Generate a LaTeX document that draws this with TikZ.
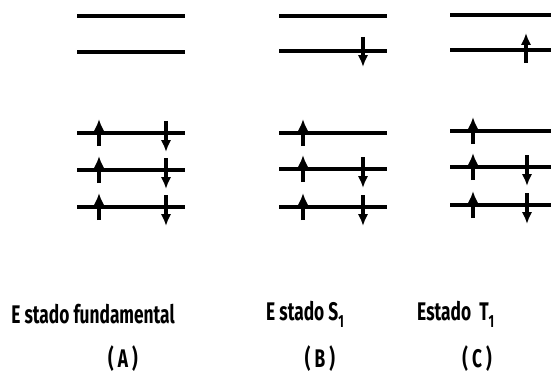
\documentclass[tikz,border=0pt]{standalone}
\usepackage{fontspec}
\setmainfont{Fira Sans}
\usetikzlibrary{arrows.meta}

\begin{document}
\begin{tikzpicture}[x=0.02cm, y=-0.02cm,
        level/.style={line width=2.2pt},
        spin/.style={line width=2pt, -{Latex[length=2.4mm,width=2.1mm]}},
        label/.style={font=\fontsize{14.5}{16}\selectfont\bfseries, xscale=0.68, transform shape, inner sep=0pt}]

        \useasboundingbox (0,0) rectangle (551,375);

        % (A) estado fundamental
        \begin{scope}[shift={(77,0)}]
        \foreach \y in {16,52,133,170,207}
            \draw[level] (0,\y) -- (108,\y);
        \foreach \y in {133,170,207} {
            \draw[spin] (22,\y+13) -- (22,\y-14);
            \draw[spin] (89,\y-12) -- (89,\y+19);
        }
        \end{scope}

        % (B) estado S1
        \begin{scope}[shift={(279,0)}]
        \foreach \y in {16,51,133,169,207}
            \draw[level] (0,\y) -- (108,\y);
        \draw[spin] (84,37) -- (84,67);
        \foreach \y in {133,169,207}
            \draw[spin] (24,\y+13) -- (24,\y-14);
        \foreach \y in {169,207}
            \draw[spin] (84,\y-12) -- (84,\y+19);
        \end{scope}

        % (C) estado T1
        \begin{scope}[shift={(450,0)}]
        \clip (0,0) rectangle (101,375);
        \foreach \y in {15,50,131,167,205}
            \draw[level] (0,\y) -- (120,\y);
        \draw[spin] (76,63) -- (76,33);
        \foreach \y in {131,167,205}
            \draw[spin] (23,\y+13) -- (23,\y-14);
        \foreach \y in {167,205}
            \draw[spin] (77,\y-12) -- (77,\y+19);
        \end{scope}

        \node[label] (fundA) at (93,314) {E stado fundamental};
        \node[label] (estB) at (305,314) {E stado S\raisebox{-0.5ex}{\fontsize{10}{10}\selectfont 1}};
        \node[label, anchor=west] (estC) at (417,314) {Estado \ T\raisebox{-0.5ex}{\fontsize{10}{10}\selectfont 1}};

        \node[label] (capA) at (123,359) {( A )};
        \node[label] (capB) at (320,359) {( B )};
        \node[label] (capC) at (477,359) {( C )};
        \end{tikzpicture}
\end{document}
